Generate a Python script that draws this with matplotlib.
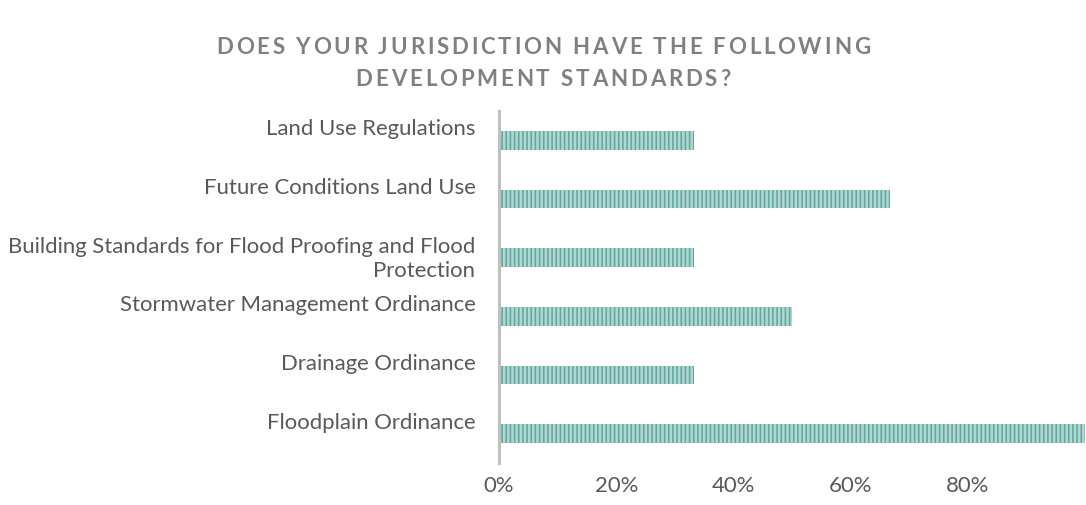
import matplotlib.pyplot as plt
from matplotlib.ticker import FuncFormatter

# categories from bottom to top
categories = ["Floodplain Ordinance",
              "Drainage Ordinance",
              "Stormwater Management Ordinance",
              "Building Standards for Flood Proofing and Flood\nProtection",
              "Future Conditions Land Use",
              "Land Use Regulations"]
values = [1.0, 0.3333, 0.5, 0.3333, 0.6667, 0.3333]
x_ticks = [0, 0.2, 0.4, 0.6, 0.8]
title_lines = ["DOES YOUR JURISDICTION HAVE THE FOLLOWING",
               "DEVELOPMENT STANDARDS?"]

plt.rcParams['font.family'] = ['Lato', 'DejaVu Sans']
plt.rcParams['hatch.linewidth'] = 1.15

W, H = 1086, 506
fig = plt.figure(figsize=(W / 100, H / 100), dpi=100)
ax = fig.add_axes([499 / W, 1 - 464 / H, 586 / W, 352 / H])

ypos = list(range(len(categories)))
ax.barh(ypos, values, height=0.32, color='#b0d7d2', edgecolor='#62a79f',
        hatch='||||', linewidth=0)

ax.set_xlim(0, 1.0)
ax.set_ylim(-0.5, len(categories) - 0.5)
ax.set_xticks(x_ticks)
ax.xaxis.set_major_formatter(FuncFormatter(lambda v, p: "%d%%" % round(v * 100)))

# single line labels sit half a line above the bar (as in the source chart)
labels = [c if "\n" in c else c + "\n" for c in categories]
ax.set_yticks(ypos)
ax.set_yticklabels(labels, va='center', linespacing=1.27)

ax.tick_params(axis='both', length=0, labelsize=15.9, labelcolor='#595959')
ax.tick_params(axis='y', pad=17)
ax.tick_params(axis='x', pad=9)

for s in ['top', 'right', 'bottom']:
    ax.spines[s].set_visible(False)
ax.spines['left'].set_color('#bfbfbf')
ax.spines['left'].set_linewidth(2.2)

# title with letter spacing, drawn char by char
renderer = fig.canvas.get_renderer()
tprops = dict(fontsize=16, fontweight='bold', color='#808080', va='center')


def text_w(s):
    t = fig.text(0, 0, s, **tprops)
    w = t.get_window_extent(renderer).width
    t.remove()
    return w


def char_w(c):
    return text_w(c) if c != " " else text_w("a a") - text_w("aa")


def spaced_title(s, yc, track):
    widths = [char_w(c) for c in s]
    total = sum(widths) + track * (len(s) - 1)
    x = (W - total) / 2
    for c, w in zip(s, widths):
        if c != " ":
            fig.text(x / W, 1 - yc / H, c, ha='left', **tprops)
        x += w + track


line1_w = sum(char_w(c) for c in title_lines[0])
track = (654 - line1_w) / (len(title_lines[0]) - 1)
spaced_title(title_lines[0], 48, track)
spaced_title(title_lines[1], 79, track)

fig.savefig("out.png", dpi=100)
